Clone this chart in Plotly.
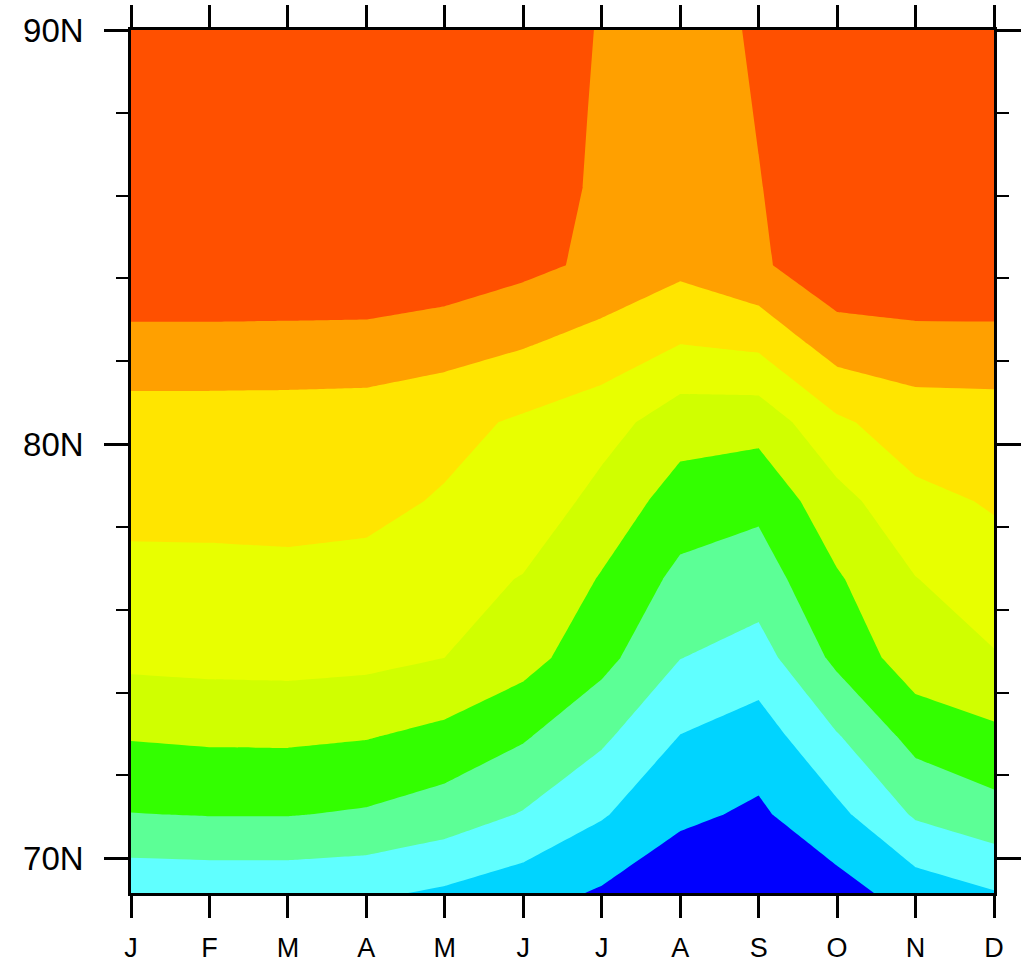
import plotly.graph_objects as go

# Categories (months) and latitude grid
months = ["J", "F", "M", "A", "M", "J", "J", "A", "S", "O", "N", "D"]
month_index = list(range(12))
lats = [90.0, 88.1053, 86.2105, 84.3158, 82.4211, 80.5263, 78.6316,
        76.7368, 74.8421, 72.9474, 71.0526, 69.1579]

# Field values, one row per latitude (J .. D)
row_90p0 = [10.50, 10.50, 10.50, 10.50, 10.50, 9.90, 8.90, 8.55, 9.12, 10.10, 10.50, 10.50]
row_88p1 = [10.50, 10.50, 10.50, 10.50, 10.50, 9.47, 8.90, 8.18, 9.07, 10.00, 10.50, 10.50]
row_86p2 = [10.50, 10.50, 10.50, 10.50, 10.50, 9.44, 8.86, 8.30, 8.95, 9.86, 10.50, 10.50]
row_84p3 = [9.87, 9.87, 9.87, 9.87, 9.66, 9.25, 8.79, 8.25, 8.83, 9.76, 10.09, 9.88]
row_82p4 = [8.66, 8.66, 8.64, 8.61, 8.39, 8.08, 7.61, 7.01, 7.21, 8.48, 8.55, 8.65]
row_80p5 = [7.56, 7.56, 7.55, 7.52, 7.30, 6.86, 6.44, 5.43, 5.37, 6.83, 7.55, 7.53]
row_78p6 = [7.29, 7.29, 7.32, 7.26, 6.91, 6.76, 5.64, 4.57, 4.25, 5.66, 6.75, 7.09]
row_76p7 = [6.73, 6.75, 6.78, 6.71, 6.44, 5.94, 4.92, 3.74, 3.49, 4.89, 5.97, 6.60]
row_74p8 = [6.25, 6.32, 6.35, 6.26, 6.00, 5.39, 4.31, 3.02, 2.59, 4.24, 5.57, 5.92]
row_72p9 = [5.07, 5.16, 5.17, 5.06, 4.73, 4.11, 3.19, 1.98, 1.50, 2.93, 4.34, 4.79]
row_71p1 = [3.97, 4.04, 4.04, 3.89, 3.52, 2.93, 2.09, 1.20, 0.84, 1.75, 3.12, 3.63]
row_69p2 = [2.21, 2.25, 2.25, 2.17, 1.85, 1.41, 0.89, 0.26, -0.03, 0.60, 1.45, 1.94]

# Contour levels and fill colours (lowest band first)
level_start, level_end, level_step = 1, 9, 1
colors = ["#0000FF", "#00D4FF", "#60FFFF", "#5CFF96", "#33FF00",
          "#D0FF00", "#E8FF00", "#FFE500", "#FFA000", "#FF5000"]

# Y tick labels
lat_ticks = [70, 80, 90]
lat_labels = ["70N", "80N", "90N"]

Z = [row_90p0, row_88p1, row_86p2, row_84p3, row_82p4, row_80p5,
     row_78p6, row_76p7, row_74p8, row_72p9, row_71p1, row_69p2]

n = len(colors) - 1
colorscale = [[k / n, c] for k, c in enumerate(colors)]

fig = go.Figure(go.Contour(
    x=month_index, y=lats, z=Z,
    colorscale=colorscale,
    contours=dict(start=level_start, end=level_end, size=level_step,
                  coloring="fill", showlines=False),
    line=dict(width=0, smoothing=0),
    showscale=False, hoverinfo="skip"))

font_family = "Liberation Sans, Arial, Helvetica, sans-serif"
fig.update_layout(
    width=1031, height=966,
    margin=dict(l=131, r=37, t=30, b=73, autoexpand=False),
    paper_bgcolor="white", plot_bgcolor="white",
    showlegend=False,
    xaxis=dict(range=[0, 11], tickmode="array", tickvals=month_index,
               ticktext=months, ticks="outside", ticklen=22, tickwidth=2.5,
               tickcolor="black", showline=True, linecolor="black",
               linewidth=2.5, mirror="ticks", showgrid=False, zeroline=False,
               automargin=False,
               tickfont=dict(family=font_family, size=27, color="black"),
               ticklabelstandoff=7),
    yaxis=dict(range=[lats[-1], 90], tickmode="array", tickvals=lat_ticks,
               ticktext=lat_labels, ticks="outside", ticklen=24, tickwidth=2.5,
               tickcolor="black", showline=True, linecolor="black",
               linewidth=2.5, mirror="ticks", showgrid=False, zeroline=False,
               automargin=False,
               minor=dict(dtick=2, tick0=0, ticks="outside", ticklen=12,
                          tickwidth=2, tickcolor="black", showgrid=False),
               tickfont=dict(family=font_family, size=33, color="black"),
               ticklabelstandoff=14),
)
fig.write_html("out.html", config={"displayModeBar": False},
               post_script="document.body.style.margin='0';document.body.style.overflow='hidden';")
